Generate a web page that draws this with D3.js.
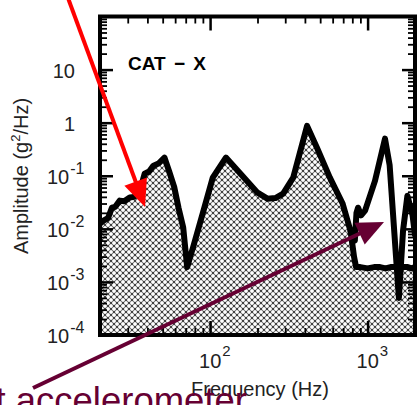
<!DOCTYPE html>
<html>
<head>
<meta charset="utf-8">
<script src="https://cdn.jsdelivr.net/npm/d3@7"></script>
<style>
  html, body { margin: 0; padding: 0; background: #fff; }
  svg { display: block; }
  text { font-family: "Liberation Sans", Arial, sans-serif; }
</style>
</head>
<body>
<svg id="chart" width="419" height="405"></svg>
<script>
// Vibration response spectrum, CAT - X axis (PSD, g^2/Hz vs Hz)
const freqUpper = [20, 21.2, 22.5, 23.8, 25, 26.7, 28.5, 30.9, 33, 34.2, 36, 38.4, 41, 43.7, 47, 51.3,
  55, 59.3, 63, 67.5, 71.5, 78, 90, 104, 126, 156, 200, 231, 260, 291, 337, 413, 477, 576, 694,
  780, 830, 850, 870, 910, 964, 1114, 1290, 1380, 1514, 1580, 1680, 1790, 1930, 2000];
const ampUpper = [0.0126, 0.0144, 0.016, 0.025, 0.026, 0.034, 0.033, 0.039, 0.040, 0.046, 0.055, 0.109, 0.12, 0.155, 0.17, 0.22,
  0.12, 0.060, 0.025, 0.0106, 0.0019, 0.0045, 0.020, 0.092, 0.22, 0.109, 0.048, 0.037, 0.038, 0.046, 0.092, 0.87, 0.337, 0.092, 0.030,
  0.009, 0.006, 0.02, 0.025, 0.018, 0.022, 0.08, 0.5, 0.16, 0.0031, 0.0005, 0.0094, 0.042, 0.018, 0.0076];

// Second trace: low-level floor above ~800 Hz
const freqLower = [780, 820, 845, 900, 1000, 1100, 1200, 1300, 1400, 1500, 1600, 1700, 1800, 1900, 2000];
const ampLower = [0.009, 0.003, 0.0019, 0.0019, 0.0018, 0.0019, 0.0019, 0.0018, 0.0019, 0.0019, 0.0018, 0.0019, 0.0019, 0.0018, 0.0019];

// Axis ticks and labels
const yMajorTicks = [1e-4, 1e-3, 1e-2, 1e-1, 1, 10];
const yTickBase = ["10", "10", "10", "10", "1", "10"];
const yTickExp = ["-4", "-3", "-2", "-1", "", ""];
const xMajorTicks = [100, 1000];
const xTickBase = ["10", "10"];
const xTickExp = ["2", "3"];

const svg = d3.select("#chart");
const x = d3.scaleLog().domain([20, 2000]).range([100, 415]);
const y = d3.scaleLog().domain([1e-4, 100]).range([335, 16.5]);
const [x0, x1] = x.range();
const [yb, yt] = y.range();

const defs = svg.append("defs");
const pat = defs.append("pattern").attr("id", "hatch")
  .attr("width", 6).attr("height", 6).attr("patternUnits", "userSpaceOnUse");
pat.append("rect").attr("width", 6).attr("height", 6).attr("fill", "#fff");
pat.append("path").attr("d", "M0,0L6,6M6,0L0,6").attr("stroke", "#7a7a7a").attr("stroke-width", 1.1);
[[2.3, 2.3], [-0.7, -0.7], [5.3, -0.7], [-0.7, 5.3], [5.3, 5.3]].forEach(([px, py]) =>
  pat.append("rect").attr("x", px).attr("y", py).attr("width", 1.4).attr("height", 1.4).attr("fill", "#000"));

defs.append("clipPath").attr("id", "plotClip").append("rect")
  .attr("x", x0).attr("y", yt).attr("width", x1 - x0).attr("height", yb - yt);

const upper = freqUpper.map((f, i) => ({ f, a: ampUpper[i] }));
const lower = freqLower.map((f, i) => ({ f, a: ampLower[i] }));
const envelope = upper.filter(d => d.f < freqLower[0]).concat(lower);

const plot = svg.append("g").attr("clip-path", "url(#plotClip)");
plot.append("path").datum(envelope)
  .attr("d", d3.area().x(d => x(d.f)).y0(yb).y1(d => y(d.a)))
  .attr("fill", "url(#hatch)");

const line = d3.line().x(d => x(d.f)).y(d => y(d.a));
[upper, lower].forEach(series => {
  plot.append("path").datum(series).attr("d", line)
    .attr("fill", "none").attr("stroke", "#000").attr("stroke-width", 6)
    .attr("stroke-linejoin", "round").attr("stroke-linecap", "round");
});

// Minor ticks
const xMinor = [];
[10, 100, 1000].forEach(dec => { for (let k = 2; k <= 9; k++) { const v = k * dec; if (v > 20 && v < 2000) xMinor.push(v); } });
const yMinor = [];
[1e-4, 1e-3, 1e-2, 1e-1, 1, 10].forEach(dec => { for (let k = 2; k <= 9; k++) yMinor.push(k * dec); });

function tickAxis(axisFn, scale, values, size, transform, width) {
  const g = svg.append("g").attr("transform", transform)
    .call(axisFn(scale).tickValues(values).tickSize(-size).tickFormat(""));
  g.select(".domain").remove();
  g.selectAll("line").attr("stroke", "#000").attr("stroke-width", width);
}
tickAxis(d3.axisLeft, y, yMinor, 7, `translate(${x0},0)`, 1.8);
tickAxis(d3.axisLeft, y, yMajorTicks, 13, `translate(${x0},0)`, 2.5);
tickAxis(d3.axisRight, y, yMinor, 7, `translate(${x1},0)`, 1.8);
tickAxis(d3.axisRight, y, yMajorTicks, 13, `translate(${x1},0)`, 2.5);
tickAxis(d3.axisTop, x, xMinor, 7, `translate(0,${yt})`, 1.8);
tickAxis(d3.axisTop, x, xMajorTicks, 14, `translate(0,${yt})`, 2.5);
tickAxis(d3.axisBottom, x, xMinor, 7, `translate(0,${yb})`, 1.8);
tickAxis(d3.axisBottom, x, xMajorTicks, 14, `translate(0,${yb})`, 2.5);

// Frame
svg.append("rect").attr("x", x0).attr("y", yt).attr("width", x1 - x0).attr("height", yb - yt)
  .attr("fill", "none").attr("stroke", "#000").attr("stroke-width", 4);

// Y tick labels
yMajorTicks.forEach((v, i) => {
  const ty = y(v) + 8;
  if (yTickExp[i]) {
    const t = svg.append("text").attr("x", 47).attr("y", ty).attr("font-size", 20).attr("fill", "#222");
    t.append("tspan").text(yTickBase[i]);
    t.append("tspan").attr("dx", 1).attr("dy", -10).attr("font-size", 16).text(yTickExp[i]);
  } else {
    svg.append("text").attr("x", 75).attr("y", ty).attr("text-anchor", "end")
      .attr("font-size", 20).attr("fill", "#222").text(yTickBase[i]);
  }
});

// X tick labels
xMajorTicks.forEach((v, i) => {
  const t = svg.append("text").attr("x", x(v) - 11).attr("y", 368).attr("font-size", 20).attr("fill", "#222");
  t.append("tspan").text(xTickBase[i]);
  t.append("tspan").attr("dx", 1).attr("dy", -12).attr("font-size", 15).text(xTickExp[i]);
});

// Axis titles
const yt2 = svg.append("text").attr("transform", "translate(28,176) rotate(-90)")
  .attr("text-anchor", "middle").attr("font-size", 20).attr("fill", "#222");
yt2.append("tspan").text("Amplitude (g");
yt2.append("tspan").attr("dy", -8).attr("font-size", 13).text("2");
yt2.append("tspan").attr("dy", 8).text("/Hz)");

svg.append("text").attr("x", 260).attr("y", 396).attr("text-anchor", "middle")
  .attr("font-size", 20).attr("fill", "#222").text("Frequency (Hz)");

// In-plot title
svg.append("text").attr("x", 128).attr("y", 70).attr("font-size", 19).attr("font-weight", "bold")
  .attr("word-spacing", 3).attr("fill", "#000").text("CAT \u2212 X");

// Callout arrows
function arrow(xs, ys, xe, ye, color, width, headLen, headHalf) {
  const dx = xe - xs, dy = ye - ys, len = Math.hypot(dx, dy);
  const ux = dx / len, uy = dy / len;
  const bx = xe - ux * headLen, by = ye - uy * headLen;
  svg.append("line").attr("x1", xs).attr("y1", ys).attr("x2", bx + ux * 2).attr("y2", by + uy * 2)
    .attr("stroke", color).attr("stroke-width", width);
  svg.append("polygon")
    .attr("points", [[xe, ye], [bx - uy * headHalf, by + ux * headHalf], [bx + uy * headHalf, by - ux * headHalf]].map(p => p.join(",")).join(" "))
    .attr("fill", color);
}
arrow(68, -2, 145, 207, "#ff0000", 4, 27, 12);
arrow(33, 388, 384, 222, "#660033", 4, 27, 12);

svg.append("text").attr("x", 247).attr("y", 413).attr("text-anchor", "end")
  .attr("font-size", 36.5).attr("fill", "#660033").text("Input accelerometer");
</script>
</body>
</html>
